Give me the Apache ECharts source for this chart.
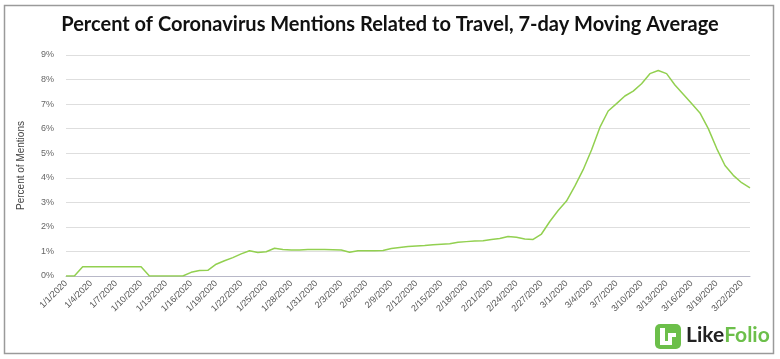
<!DOCTYPE html>
<html>
<head>
<meta charset="utf-8">
<script src="https://cdn.jsdelivr.net/npm/echarts@6/dist/echarts.min.js"></script>
<style>
html,body{margin:0;padding:0;background:#fff;}
#c{width:780px;height:359px;}
</style>
</head>
<body>
<div id="c"></div>
<script>
const dates = [
'1/1/2020','1/2/2020','1/3/2020','1/4/2020','1/5/2020','1/6/2020','1/7/2020','1/8/2020','1/9/2020','1/10/2020',
'1/11/2020','1/12/2020','1/13/2020','1/14/2020','1/15/2020','1/16/2020','1/17/2020','1/18/2020','1/19/2020','1/20/2020',
'1/21/2020','1/22/2020','1/23/2020','1/24/2020','1/25/2020','1/26/2020','1/27/2020','1/28/2020','1/29/2020','1/30/2020',
'1/31/2020','2/1/2020','2/2/2020','2/3/2020','2/4/2020','2/5/2020','2/6/2020','2/7/2020','2/8/2020','2/9/2020',
'2/10/2020','2/11/2020','2/12/2020','2/13/2020','2/14/2020','2/15/2020','2/16/2020','2/17/2020','2/18/2020','2/19/2020',
'2/20/2020','2/21/2020','2/22/2020','2/23/2020','2/24/2020','2/25/2020','2/26/2020','2/27/2020','2/28/2020','2/29/2020',
'3/1/2020','3/2/2020','3/3/2020','3/4/2020','3/5/2020','3/6/2020','3/7/2020','3/8/2020','3/9/2020','3/10/2020',
'3/11/2020','3/12/2020','3/13/2020','3/14/2020','3/15/2020','3/16/2020','3/17/2020','3/18/2020','3/19/2020','3/20/2020',
'3/21/2020','3/22/2020','3/23/2020'
];
const travelPct = [
0, 0, 0.38, 0.38, 0.38, 0.38, 0.38, 0.38, 0.38, 0.38,
0, 0, 0, 0, 0, 0.15, 0.22, 0.23, 0.48, 0.62,
0.75, 0.9, 1.03, 0.96, 0.99, 1.13, 1.08, 1.06, 1.06, 1.08,
1.08, 1.08, 1.07, 1.06, 0.97, 1.03, 1.03, 1.03, 1.04, 1.12,
1.16, 1.2, 1.22, 1.24, 1.27, 1.29, 1.31, 1.37, 1.4, 1.43,
1.44, 1.49, 1.53, 1.61, 1.58, 1.51, 1.49, 1.71, 2.22, 2.67,
3.05, 3.66, 4.33, 5.13, 6.05, 6.72, 7.02, 7.33, 7.53, 7.83,
8.24, 8.37, 8.24, 7.78, 7.4, 7.02, 6.64, 6.0, 5.2, 4.5,
4.1, 3.8, 3.59
];
const yTicks = [0,1,2,3,4,5,6,7,8,9];

const chart = echarts.init(document.getElementById('c'));
chart.setOption({
  animation: false,
  backgroundColor: '#fff',
  title: {
    text: 'Percent of Coronavirus Mentions Related to Travel, 7-day Moving Average',
    left: 'center',
    top: 10,
    textStyle: { fontFamily: 'Lato', fontWeight: 'bold', fontSize: 20, color: '#111' }
  },
  grid: { left: 66, right: 30, top: 55, bottom: 83, containLabel: false },
  xAxis: {
    type: 'category',
    data: dates,
    boundaryGap: false,
    axisLine: { lineStyle: { color: '#b8b8c8', width: 1 } },
    axisTick: { show: false },
    axisLabel: { interval: 2, rotate: 45, fontSize: 9, color: '#555', fontFamily: 'Liberation Sans', margin: 6 }
  },
  yAxis: {
    type: 'value',
    min: 0, max: 9, interval: 1,
    name: 'Percent of Mentions',
    nameLocation: 'middle',
    nameGap: 40,
    nameTextStyle: { fontSize: 10, color: '#444', fontFamily: 'Liberation Sans' },
    axisLine: { show: false },
    axisTick: { show: false },
    splitLine: { lineStyle: { color: '#dedede', width: 1 } },
    axisLabel: { formatter: v => yTicks.includes(v) ? v + '%' : '', fontSize: 9, color: '#666', fontFamily: 'Liberation Sans', margin: 12 }
  },
  series: [{
    type: 'line',
    data: travelPct,
    showSymbol: false,
    symbol: 'none',
    lineStyle: { color: '#92d050', width: 1.5 },
    itemStyle: { color: '#92d050' }
  }],
  graphic: [
    { type: 'rect', shape: { x: 4.5, y: 5.5, width: 769, height: 348 }, style: { fill: null, stroke: '#9a9a9a', lineWidth: 1.5 }, silent: true },
    { type: 'rect', shape: { x: 655, y: 324, width: 26, height: 25, r: 5 }, style: { fill: '#6cbf4a' } },
    { type: 'polygon', shape: { points: [[660,328],[665,328],[665,341],[668,341],[668,333],[676,333],[676,337],[672,337],[672,345],[660,345]] }, style: { fill: '#fff' } },
    { type: 'text', left: 686, top: 325, style: { rich: {
        a: { fontFamily: 'Lato', fontWeight: 'bold', fontSize: 21, fill: '#222' },
        b: { fontFamily: 'Lato', fontWeight: 'bold', fontSize: 21, fill: '#6cbf4a' }
      }, text: '{a|Like}{b|Folio}' } }
  ]
});
</script>
</body>
</html>
